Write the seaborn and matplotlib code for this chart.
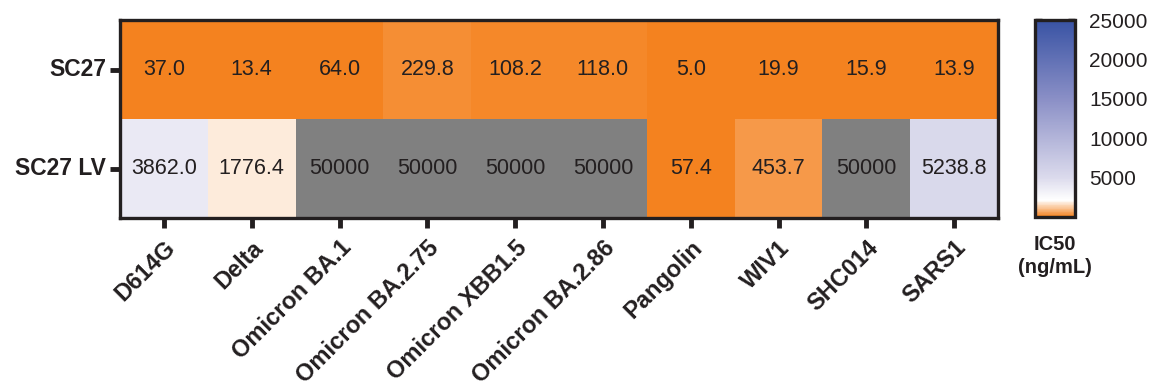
import numpy as np
import pandas as pd
import seaborn as sns
import matplotlib.pyplot as plt
from matplotlib.colors import LinearSegmentedColormap

sns.set_theme(style="white")
plt.rcParams["font.family"] = ["Liberation Sans", "DejaVu Sans"]

variants = ["D614G", "Delta", "Omicron BA.1", "Omicron BA.2.75", "Omicron XBB1.5",
            "Omicron BA.2.86", "Pangolin", "WIV1", "SHC014", "SARS1"]
antibodies = ["SC27", "SC27 LV"]
sc27 = [37.0, 13.4, 64.0, 229.8, 108.2, 118.0, 5.0, 19.9, 15.9, 13.9]
sc27_lv = [3862.0, 1776.4, 50000, 50000, 50000, 50000, 57.4, 453.7, 50000, 5238.8]
cbar_ticks = [5000, 10000, 15000, 20000, 25000]

df = pd.DataFrame([sc27, sc27_lv], index=antibodies, columns=variants)
labels = df.map(lambda v: "50000" if v >= 50000 else f"{v:.1f}")

# orange -> white -> lavender -> blue, values above range in gray
cmap = LinearSegmentedColormap.from_list(
    "ic50",
    [(0.0, "#F4821F"), (0.084, "#FFFFFF"), (0.2, "#DBDAEC"),
     (0.6, "#8A8FC6"), (1.0, "#3953A4")])
cmap.set_over("#808080")

dark = "#231F20"
fig = plt.figure(figsize=(11.51, 3.85), dpi=100)
ax = fig.add_axes([120 / 1151, 1 - 218 / 385, 878 / 1151, 198 / 385])
cax = fig.add_axes([1035 / 1151, 1 - 217 / 385, 40 / 1151, 197 / 385])

sns.heatmap(df, ax=ax, cbar_ax=cax, cmap=cmap, vmin=0, vmax=25000,
            annot=labels, fmt="", annot_kws={"size": 15.5, "color": dark},
            cbar_kws={"ticks": cbar_ticks})

for s in ax.spines.values():
    s.set_visible(True)
    s.set_linewidth(2.4)
    s.set_color(dark)

ax.tick_params(axis="both", direction="out", length=7, width=3.5, color=dark,
               bottom=True, left=True, pad=3)
ax.tick_params(axis="x", pad=6)
ax.set_xticklabels(variants, rotation=45, ha="right", rotation_mode="anchor",
                   fontsize=17, fontweight="bold", color=dark)
ax.set_yticklabels(antibodies, rotation=0, fontsize=16.5, fontweight="bold", color=dark)
ax.set_xlabel("")
ax.set_ylabel("")

cb = ax.collections[0].colorbar
cb.outline.set_linewidth(2.4)
cb.outline.set_edgecolor(dark)
cax.yaxis.set_ticks_position("both")
cax.yaxis.set_label_position("right")
cax.tick_params(axis="y", direction="in", length=5, width=2.5, color=dark,
                labelsize=15, labelcolor=dark, labelright=True, labelleft=False, pad=10)
cax.text(0.5, -0.09, "IC50\n(ng/mL)", transform=cax.transAxes, ha="center", va="top",
         fontsize=14.5, fontweight="bold", color=dark, linespacing=1.3)

fig.savefig("out.png", dpi=100)
plt.close()
